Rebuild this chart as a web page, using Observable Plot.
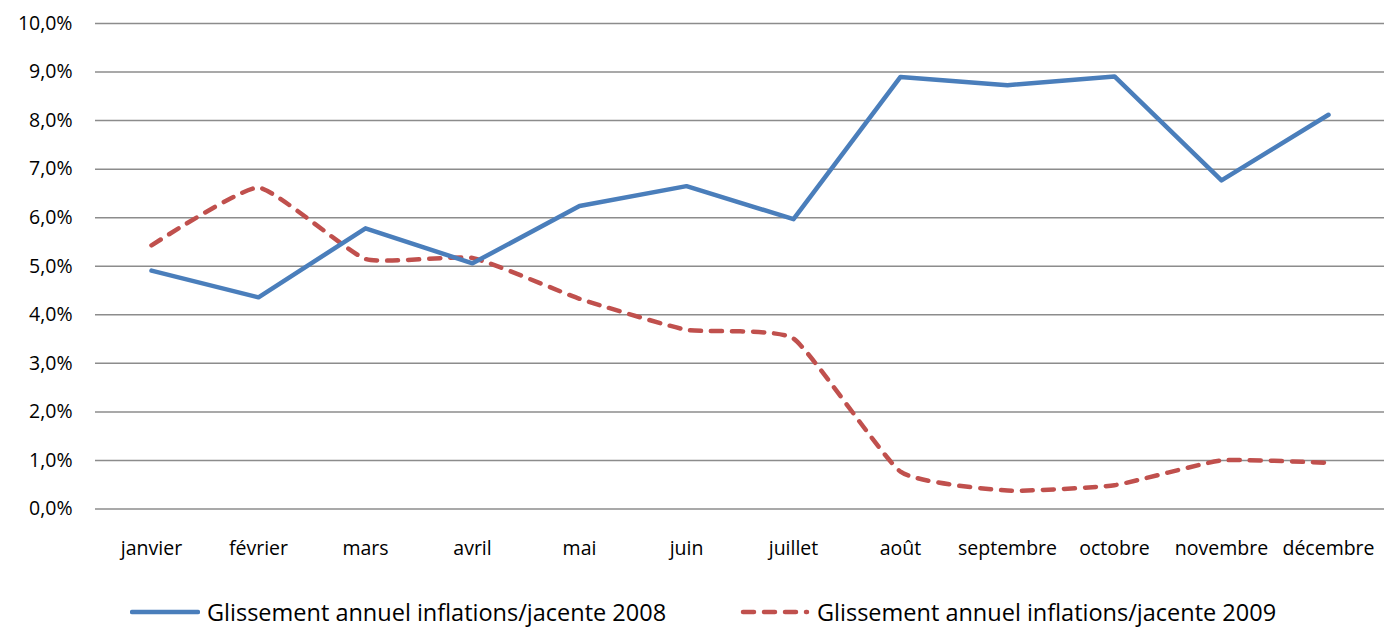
<!DOCTYPE html>
<html>
<head>
<meta charset="utf-8">
<script src="https://cdn.jsdelivr.net/npm/d3@7"></script>
<script src="https://cdn.jsdelivr.net/npm/@observablehq/plot@0.6"></script>
<style>
  html, body { margin: 0; padding: 0; background: #fff; }
  body { width: 1384px; height: 628px; overflow: hidden; font-family: "Open Sans", sans-serif; }
  #chart { position: relative; width: 1384px; height: 628px; }
  .legend { position: absolute; top: 597px; left: 0; width: 1384px; height: 30px; font-size: 23.5px; color: #000; }
  .item { position: absolute; top: 0; display: flex; align-items: center; height: 30px; white-space: nowrap; }
  .item svg { margin-right: 7px; }
</style>
</head>
<body>
<div id="chart"></div>
<script>
const months = ["janvier","février","mars","avril","mai","juin","juillet","août","septembre","octobre","novembre","décembre"];
const values2008 = [4.91, 4.36, 5.78, 5.06, 6.24, 6.65, 5.97, 8.90, 8.73, 8.91, 6.77, 8.12];
const values2009 = [5.43, 6.62, 5.15, 5.17, 4.33, 3.69, 3.51, 0.77, 0.38, 0.49, 1.00, 0.95];
const yTicks = [0,1,2,3,4,5,6,7,8,9,10];
const seriesNames = ["Glissement annuel inflations/jacente 2008", "Glissement annuel inflations/jacente 2009"];

const d2008 = months.map((m, i) => ({month: m, value: values2008[i]}));
const d2009 = months.map((m, i) => ({month: m, value: values2009[i]}));

const fmt = d => d.toFixed(1).replace(".", ",") + "%";

const chart = Plot.plot({
  width: 1384,
  height: 575,
  marginTop: 23,
  marginBottom: 66.5,
  marginLeft: 95,
  marginRight: 0,
  style: {fontFamily: "'Open Sans', sans-serif", fontSize: "19.5px", color: "#000", background: "#fff"},
  x: {type: "point", domain: months, padding: 0.5, label: null},
  y: {domain: [0, 10], label: null},
  marks: [
    Plot.ruleY(yTicks, {stroke: "#8c8c8c", strokeWidth: 1.5, strokeOpacity: 1}),
    Plot.axisY(yTicks, {tickSize: 0, tickPadding: 23, tickFormat: fmt, label: null, fontSize: 19.5}),
    Plot.axisX(months, {tickSize: 0, tickPadding: 32, label: null, fontSize: 19.5}),
    Plot.line(d2009, {x: "month", y: "value", stroke: "#C0504D", strokeWidth: 4.5, strokeDasharray: "11,10", strokeLinecap: "round", curve: "cardinal", tension: 0.55}),
    Plot.line(d2008, {x: "month", y: "value", stroke: "#4A7EBB", strokeWidth: 4.5, strokeLinecap: "round", strokeLinejoin: "round"})
  ]
});

const root = document.getElementById("chart");
root.appendChild(chart);

const legend = document.createElement("div");
legend.className = "legend";
legend.innerHTML = `
  <div class="item" style="left:130px">
    <svg width="70" height="10"><line x1="2" y1="5" x2="68" y2="5" stroke="#4A7EBB" stroke-width="4.5" stroke-linecap="round"/></svg>
    <span>${seriesNames[0]}</span>
  </div>
  <div class="item" style="left:740px">
    <svg width="70" height="10"><line x1="3" y1="5" x2="67" y2="5" stroke="#C0504D" stroke-width="4.5" stroke-dasharray="11,10" stroke-linecap="round"/></svg>
    <span>${seriesNames[1]}</span>
  </div>`;
root.appendChild(legend);
</script>
</body>
</html>
